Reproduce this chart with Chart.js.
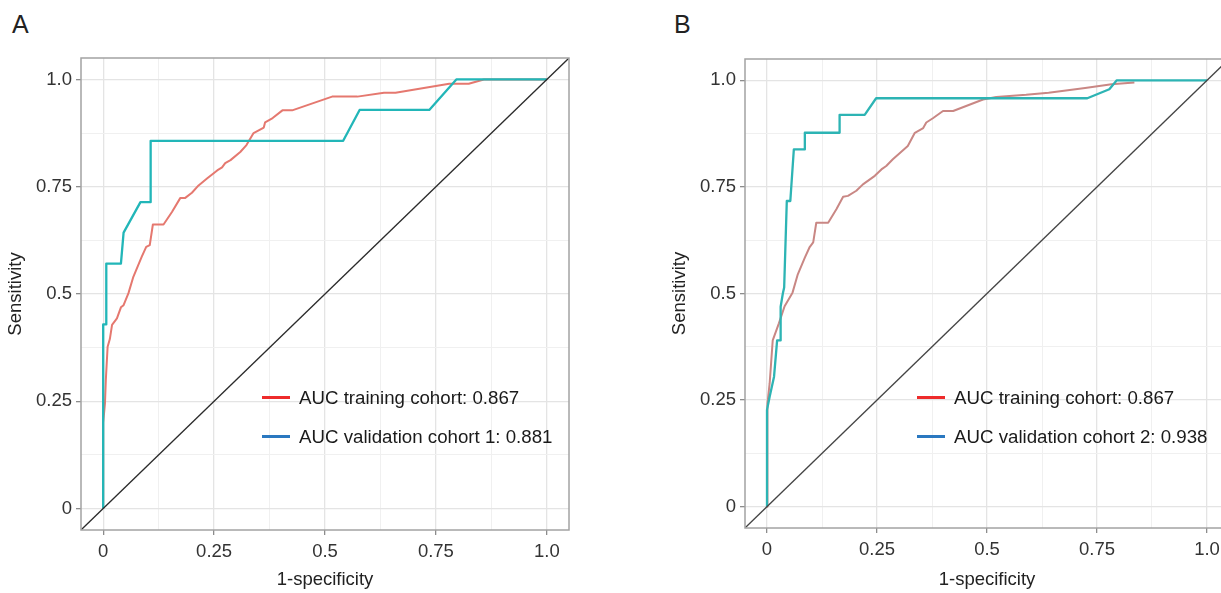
<!DOCTYPE html>
<html>
<head>
<meta charset="utf-8">
<script src="https://cdn.jsdelivr.net/npm/chart.js@4.4.1/dist/chart.umd.min.js"></script>
<style>
	html, body {
		margin: 0;
		padding: 0;
		background: #fff;
		width: 1221px;
		height: 593px;
		overflow: hidden;
		position: relative;
		font-family: "Liberation Sans", Arial, sans-serif;
	}
	canvas {
		position: absolute;
		top: 0;
	}
	.panel-label {
		position: absolute;
		top: 10px;
		font-size: 25px;
		color: #222;
	}
	.legend {
		position: absolute;
		font-size: 18.7px;
		color: #1a1a1a;
	}
	.legend-row {
		display: flex;
		align-items: center;
		height: 39px;
		white-space: nowrap;
	}
	.legend-key {
		width: 28px;
		height: 3px;
		margin-right: 9px;
	}
</style>
</head>
<body>
<div class="panel-label" style="left:12px">A</div>
<div class="panel-label" style="left:674px">B</div>
<canvas id="roc-a" width="600" height="593" style="left:0"></canvas>
<canvas id="roc-b" width="600" height="593" style="left:664px"></canvas>
<div class="legend" id="legend-a" style="left:262px; top:378px"></div>
<div class="legend" id="legend-b" style="left:917px; top:378px"></div>
<script>
// axis ticks (major ones get a label, the ones in between are minor grid lines)
const tickValues = [0, 0.125, 0.25, 0.375, 0.5, 0.625, 0.75, 0.875, 1];
const tickLabels = ["0", "", "0.25", "", "0.5", "", "0.75", "", "1.0"];

// reference diagonal
const diagFpr = [-0.05, 1.05];
const diagTpr = [-0.05, 1.05];

// panel A, training cohort
const trainFprA = [0, 0, 0.004, 0.006, 0.010, 0.015, 0.020, 0.031, 0.040, 0.046, 0.057, 0.068, 0.087, 0.097, 0.105, 0.112, 0.136, 0.155, 0.174, 0.185, 0.200, 0.215, 0.234, 0.257, 0.268, 0.275, 0.287, 0.309, 0.323, 0.339, 0.362, 0.365, 0.382, 0.404, 0.426, 0.516, 0.573, 0.633, 0.659, 0.780, 0.824, 0.858, 1];
const trainTprA = [0, 0.20, 0.245, 0.300, 0.377, 0.395, 0.428, 0.443, 0.469, 0.474, 0.502, 0.540, 0.587, 0.610, 0.614, 0.662, 0.662, 0.691, 0.724, 0.724, 0.736, 0.753, 0.769, 0.788, 0.795, 0.805, 0.812, 0.831, 0.847, 0.875, 0.888, 0.900, 0.910, 0.928, 0.928, 0.960, 0.960, 0.969, 0.969, 0.990, 0.990, 1, 1];

// panel A, validation cohort 1
const validFprA = [0, 0, 0.007, 0.007, 0.040, 0.046, 0.084, 0.107, 0.107, 0.541, 0.578, 0.735, 0.796, 1];
const validTprA = [0, 0.429, 0.429, 0.571, 0.571, 0.643, 0.714, 0.714, 0.857, 0.857, 0.929, 0.929, 1, 1];

// panel B, training cohort
const trainFprB = [0, 0, 0.002, 0.006, 0.013, 0.027, 0.040, 0.058, 0.070, 0.086, 0.097, 0.105, 0.112, 0.139, 0.158, 0.173, 0.184, 0.203, 0.218, 0.245, 0.260, 0.271, 0.286, 0.320, 0.336, 0.355, 0.362, 0.377, 0.400, 0.423, 0.491, 0.521, 0.589, 0.640, 0.723, 0.783, 0.835];
const trainTprB = [0, 0.20, 0.242, 0.289, 0.390, 0.430, 0.470, 0.502, 0.545, 0.584, 0.609, 0.620, 0.666, 0.666, 0.698, 0.727, 0.729, 0.741, 0.756, 0.776, 0.791, 0.799, 0.815, 0.846, 0.877, 0.888, 0.901, 0.911, 0.928, 0.928, 0.955, 0.961, 0.966, 0.971, 0.982, 0.991, 0.995];

// panel B, validation cohort 2
const validFprB = [0, 0, 0.006, 0.016, 0.023, 0.031, 0.031, 0.036, 0.039, 0.045, 0.053, 0.061, 0.086, 0.086, 0.165, 0.165, 0.222, 0.248, 0.728, 0.778, 0.795, 1];
const validTprB = [0, 0.227, 0.258, 0.305, 0.390, 0.390, 0.469, 0.500, 0.514, 0.717, 0.717, 0.838, 0.838, 0.877, 0.877, 0.919, 0.919, 0.958, 0.958, 0.979, 1, 1];

const legendLabelsA = ["AUC training cohort: 0.867", "AUC validation cohort 1: 0.881"];
const legendLabelsB = ["AUC training cohort: 0.867", "AUC validation cohort 2: 0.938"];
const legendColors = ["#ee2b2b", "#2a78c0"];

const fontFamily = '"Liberation Sans", Arial, sans-serif';

function toPoints(xs, ys) {
	return xs.map((x, i) => ({ x: x, y: ys[i] }));
}

function isMajor(ctx) {
	return ctx.tick && tickLabels[ctx.index] !== "";
}

const framePlugin = {
	id: "frame",
	afterDraw(chart) {
		const area = chart.chartArea;
		const c = chart.ctx;
		c.save();
		c.strokeStyle = "#a3a3a3";
		c.lineWidth = 1.5;
		c.strokeRect(area.left, area.top, area.right - area.left, area.bottom - area.top);
		c.restore();
	}
};

function makeAxis(titleText, isX, fitSize) {
	return {
		type: "linear",
		min: -0.05,
		max: 1.05,
		afterBuildTicks: (axis) => {
			axis.ticks = tickValues.map((v) => ({ value: v }));
		},
		afterFit: (axis) => {
			if (isX) axis.height = fitSize;
			else axis.width = fitSize;
		},
		ticks: {
			autoSkip: false,
			maxRotation: 0,
			padding: isX ? 6 : 4,
			color: "#333",
			font: { family: fontFamily, size: 18.5 },
			callback: (value, index) => tickLabels[index]
		},
		grid: {
			color: (ctx) => (isMajor(ctx) ? "#e4e4e4" : "#f0f0f0"),
			lineWidth: (ctx) => (isMajor(ctx) ? 1.3 : 1),
			tickLength: 5,
			tickColor: (ctx) => (isMajor(ctx) ? "#8c8c8c" : "rgba(0,0,0,0)")
		},
		border: { display: false },
		title: {
			display: true,
			text: titleText,
			color: "#222",
			font: { family: fontFamily, size: 18.5 },
			padding: isX ? { top: 0, bottom: 2 } : { top: 5, bottom: 0 }
		}
	};
}

function makeChart(canvasId, cfg) {
	const ctx = document.getElementById(canvasId).getContext("2d");
	return new Chart(ctx, {
		type: "line",
		data: {
			datasets: [
				{
					label: "diagonal",
					data: toPoints(diagFpr, diagTpr),
					borderColor: cfg.diagColor,
					borderWidth: 1.3
				},
				{
					label: cfg.labels[1],
					data: toPoints(cfg.validFpr, cfg.validTpr),
					borderColor: cfg.validColor,
					borderWidth: 2.3
				},
				{
					label: cfg.labels[0],
					data: toPoints(cfg.trainFpr, cfg.trainTpr),
					borderColor: cfg.trainColor,
					borderWidth: 2
				}
			]
		},
		options: {
			responsive: false,
			animation: false,
			devicePixelRatio: 1,
			layout: { padding: cfg.padding },
			elements: {
				point: { radius: 0 },
				line: { tension: 0, fill: false, borderJoinStyle: "round" }
			},
			scales: {
				x: makeAxis("1-specificity", true, cfg.xHeight),
				y: makeAxis("Sensitivity", false, 81)
			},
			plugins: {
				legend: { display: false },
				tooltip: { enabled: false }
			}
		},
		plugins: [framePlugin]
	});
}

function buildLegend(elId, labels) {
	const el = document.getElementById(elId);
	labels.forEach((text, i) => {
		const row = document.createElement("div");
		row.className = "legend-row";
		const key = document.createElement("span");
		key.className = "legend-key";
		key.style.background = legendColors[i];
		const label = document.createElement("span");
		label.textContent = text;
		row.appendChild(key);
		row.appendChild(label);
		el.appendChild(row);
	});
}

makeChart("roc-a", {
	labels: legendLabelsA,
	trainFpr: trainFprA, trainTpr: trainTprA,
	validFpr: validFprA, validTpr: validTprA,
	trainColor: "#e5786f", validColor: "#22b6b8", diagColor: "#2b2b2b",
	padding: { top: 58, right: 31, left: 0, bottom: 0 },
	xHeight: 63
});

makeChart("roc-b", {
	labels: legendLabelsB,
	trainFpr: trainFprB, trainTpr: trainTprB,
	validFpr: validFprB, validTpr: validTprB,
	trainColor: "#c98784", validColor: "#2db4b4", diagColor: "#444",
	padding: { top: 59, right: 35, left: 0, bottom: 0 },
	xHeight: 65
});

buildLegend("legend-a", legendLabelsA);
buildLegend("legend-b", legendLabelsB);
</script>
</body>
</html>
